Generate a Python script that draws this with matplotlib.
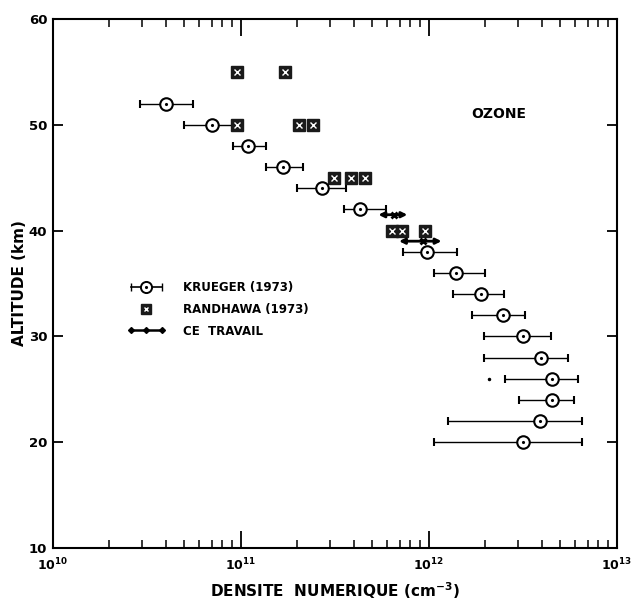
import matplotlib
matplotlib.use("Agg")
import matplotlib.pyplot as plt
from matplotlib.lines import Line2D
from matplotlib.legend_handler import HandlerLine2D, HandlerTuple
import numpy as np

plt.rcParams['font.family'] = ['DejaVu Sans']
plt.rcParams['font.weight'] = 'bold'

# Krueger (1973): altitude, density, error bar low / high
krueger_alt = [52, 50, 48, 46, 44, 42, 38, 36, 34, 32, 30, 28, 26, 24, 22, 20]
krueger_val = [4.0e10, 7.0e10, 1.1e11, 1.68e11, 2.7e11, 4.3e11, 9.8e11, 1.39e12,
               1.89e12, 2.49e12, 3.16e12, 3.98e12, 4.54e12, 4.55e12, 3.9e12, 3.16e12]
krueger_lo = [2.9e10, 5.0e10, 9.1e10, 1.37e11, 2.0e11, 3.55e11, 7.3e11, 1.07e12,
              1.35e12, 1.69e12, 1.97e12, 1.97e12, 2.56e12, 3.03e12, 1.26e12, 1.07e12]
krueger_hi = [5.6e10, 9.1e10, 1.37e11, 2.15e11, 3.64e11, 5.94e11, 1.42e12, 2.0e12,
              2.5e12, 3.24e12, 4.45e12, 5.52e12, 6.24e12, 5.94e12, 6.56e12, 6.5e12]

# Randhawa (1973)
randhawa_alt = [55, 55, 50, 50, 50, 45, 45, 45, 40, 40, 40]
randhawa_val = [9.5e10, 1.71e11, 9.5e10, 2.03e11, 2.42e11, 3.13e11, 3.87e11, 4.6e11,
                6.4e11, 7.2e11, 9.5e11]

# ce travail
ce_alt = [41.5, 39.0]
ce_val = [6.5e11, 9.3e11]
ce_lo = [5.4e11, 6.95e11]
ce_hi = [7.7e11, 1.17e12]

# small isolated dot visible on the original
stray_alt = [26.0]
stray_val = [2.1e12]

fig = plt.figure(figsize=(6.32, 6.03), dpi=100)
ax = fig.add_axes([0.0834, 0.0912, 0.8924, 0.8773])

kv = np.array(krueger_val)
xerr = [kv - np.array(krueger_lo), np.array(krueger_hi) - kv]
ax.errorbar(kv, krueger_alt, xerr=xerr, fmt='o', ms=9, mfc='white', mec='black',
            mew=1.5, ecolor='black', elinewidth=1.0, capsize=3, capthick=1.0,
            zorder=3)
ax.plot(kv, krueger_alt, '.', ms=2.5, color='black', zorder=4)

ax.plot(randhawa_val, randhawa_alt, 's', ms=8, color='#1a1a1a', zorder=3)
ax.plot(randhawa_val, randhawa_alt, 'x', ms=4, mew=1.0, color='white', zorder=4)

for lo, hi, y in zip(ce_lo, ce_hi, ce_alt):
    ax.annotate('', xy=(lo, y), xytext=(hi, y),
                arrowprops=dict(arrowstyle='<|-|>', color='black', lw=2.0,
                                mutation_scale=8, shrinkA=0, shrinkB=0))
ax.plot(ce_val, ce_alt, 'x', ms=5, mew=2.0, color='black', zorder=4)

ax.plot(stray_val, stray_alt, '.', ms=3, color='black')

ax.set_xscale('log')
ax.set_xlim(1e10, 1e13)
ax.set_ylim(10, 60)
ax.set_yticks([10, 20, 30, 40, 50, 60])

for s in ax.spines.values():
    s.set_linewidth(1.5)
ax.tick_params(axis='x', which='major', direction='in', top=True, length=12,
               width=1.3, labelsize=9, pad=6)
ax.tick_params(axis='x', which='minor', direction='in', top=True, length=6, width=1.1)
ax.tick_params(axis='y', which='major', direction='in', right=True, length=7,
               width=1.3, labelsize=9.5, pad=4)
ax.tick_params(axis='y', which='minor', left=False, right=False)

ax.set_xlabel('DENSITE  NUMERIQUE (cm$^{-3}$)', fontsize=11,
              fontweight='bold', labelpad=5)
ax.set_ylabel('ALTITUDE (km)', fontsize=11, fontweight='bold')
ax.yaxis.set_label_coords(-0.046, 0.5)

ax.text(0.79, 0.82, 'OZONE', transform=ax.transAxes, fontsize=10,
        fontweight='bold', ha='center', va='center')

# legend
h_kbar = Line2D([0], [0], marker='|', ms=6, mew=1.0, color='black', lw=1.2)
h_kcirc = Line2D([0], [0], marker='o', ms=8, mfc='white', mec='black', mew=1.4,
                 ls='none')
h_kdot = Line2D([0], [0], marker='.', ms=2.5, color='black', ls='none')
h_r1 = Line2D([0], [0], marker='s', ms=7, color='#1a1a1a', ls='none')
h_r2 = Line2D([0], [0], marker='x', ms=3.5, mew=1.0, color='white', ls='none')
h_c = Line2D([0], [0], marker='D', ms=3, color='black', lw=1.8)
leg = ax.legend([(h_kbar, h_kcirc, h_kdot), (h_r1, h_r2), h_c],
                ['KRUEGER (1973)', 'RANDHAWA (1973)', 'CE  TRAVAIL'],
                handler_map={tuple: HandlerTuple(ndivide=1),
                             h_kbar: HandlerLine2D(numpoints=2, marker_pad=0.0),
                             h_kcirc: HandlerLine2D(numpoints=1),
                             h_kdot: HandlerLine2D(numpoints=1),
                             h_c: HandlerLine2D(numpoints=3, marker_pad=0.0)},
                loc='upper left', bbox_to_anchor=(0.12, 0.525), frameon=False,
                handlelength=2.6, handletextpad=1.8, labelspacing=0.75,
                prop={'size': 8.5, 'weight': 'bold'})

fig.savefig('out.png', dpi=100)
